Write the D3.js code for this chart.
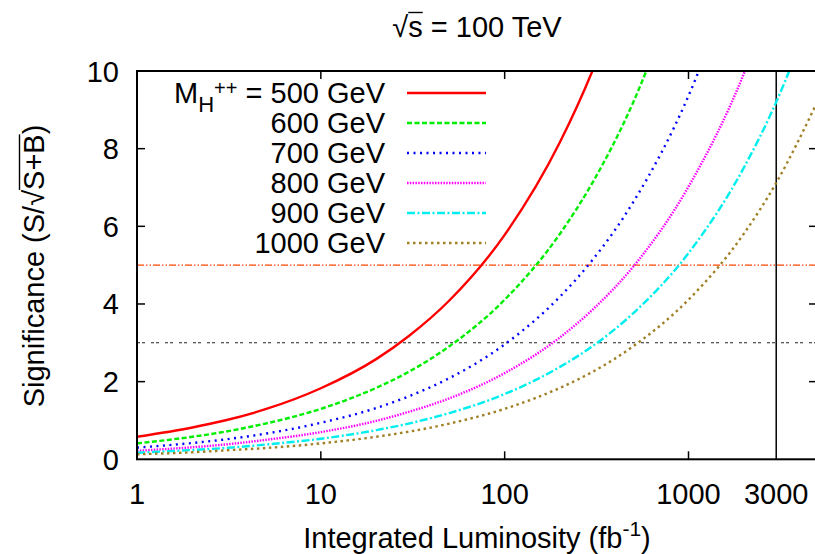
<!DOCTYPE html>
<html><head><meta charset="utf-8">
<script src="https://cdn.jsdelivr.net/npm/d3@7"></script>
<style>body{margin:0;background:#fff}svg{display:block}text{font-family:"Liberation Sans",Arial,sans-serif}</style>
</head><body>
<script>
const lumi = [1,2,3,5,10,20,30,50,100,200,300,500,1000,2000,3000,5000];
const masses = ["500","600","700","800","900","1000"];
const sig500  = [0.58,0.82,1.00,1.29,1.83,2.58,3.17,4.09,5.78,8.17,10.0,12.9];
const sig600  = [0.41,0.58,0.71,0.92,1.30,1.84,2.25,2.91,4.11,5.81,7.12,9.19,13.0];
const sig700  = [0.30,0.42,0.51,0.66,0.94,1.32,1.62,2.09,2.96,4.19,5.13,6.62,9.36,13.2];
const sig800  = [0.22,0.31,0.38,0.50,0.70,0.99,1.22,1.57,2.22,3.14,3.85,4.96,7.02,9.93,12.2];
const sig900  = [0.17,0.24,0.29,0.38,0.53,0.75,0.92,1.19,1.68,2.38,2.91,3.76,5.31,7.51,9.20,11.9];
const sig1000 = [0.13,0.18,0.23,0.29,0.41,0.58,0.71,0.92,1.30,1.84,2.25,2.91,4.11,5.81,7.12,9.19];
const xTicks = [1,10,100,1000,3000];
const yTicks = [0,2,4,6,8,10];
const refLevels = [5,3];
const refLumi = 3000;

const series = [sig500,sig600,sig700,sig800,sig900,sig1000];
const colors = ["#ff0000","#00ee00","#0000ff","#ff00ff","#00eeee","#a08025"];
const dashes = [null,"5,2.5","2,4.5","1.5,1.3","8,2.5,2,2.5","2.5,3.5"];

const W=815,H=554;
const L=137,R=817,T=71,B=459.3;
const svg=d3.select("body").append("svg").attr("width",W).attr("height",H);
const x=d3.scaleLog().domain([1,5000]).range([L,R]);
const y=d3.scaleLinear().domain([0,10]).range([B,T]);
const fs=29;

svg.append("clipPath").attr("id","clip").append("rect").attr("x",L).attr("y",T).attr("width",R-L).attr("height",B-T);

// reference lines
svg.append("line").attr("x1",L).attr("x2",R).attr("y1",y(refLevels[0])).attr("y2",y(refLevels[0]))
  .attr("stroke","#ff4500").attr("stroke-width",1.2).attr("stroke-dasharray","7,2,1.5,2,1.5,2");
svg.append("line").attr("x1",L).attr("x2",R).attr("y1",y(refLevels[1])).attr("y2",y(refLevels[1]))
  .attr("stroke","#222").attr("stroke-width",1.1).attr("stroke-dasharray","3,2,3,6");
svg.append("line").attr("x1",x(refLumi)).attr("x2",x(refLumi)).attr("y1",T).attr("y2",B)
  .attr("stroke","#000").attr("stroke-width",1.5);

// curves
const line=d3.line().x(d=>x(d[0])).y(d=>y(d[1])).curve(d3.curveMonotoneX);
const g=svg.append("g").attr("clip-path","url(#clip)");
series.forEach((s,i)=>{
  g.append("path").datum(s.map((v,j)=>[lumi[j],v])).attr("d",line)
   .attr("fill","none").attr("stroke",colors[i]).attr("stroke-width",2.4)
   .attr("stroke-dasharray",dashes[i]);
});

// frame
svg.append("rect").attr("x",L).attr("y",T).attr("width",R-L).attr("height",B-T)
  .attr("fill","none").attr("stroke","#000").attr("stroke-width",2);

// ticks
const tl=8;
[10,100,1000].forEach(v=>{
  svg.append("line").attr("x1",x(v)).attr("x2",x(v)).attr("y1",B).attr("y2",B-tl).attr("stroke","#000").attr("stroke-width",1.5);
  svg.append("line").attr("x1",x(v)).attr("x2",x(v)).attr("y1",T).attr("y2",T+tl).attr("stroke","#000").attr("stroke-width",1.5);
});
yTicks.slice(1,-1).forEach(v=>{
  svg.append("line").attr("x1",L).attr("x2",L+tl).attr("y1",y(v)).attr("y2",y(v)).attr("stroke","#000").attr("stroke-width",1.5);
  svg.append("line").attr("x1",R).attr("x2",R-tl).attr("y1",y(v)).attr("y2",y(v)).attr("stroke","#000").attr("stroke-width",1.5);
});

// tick labels
xTicks.forEach(v=>{
  svg.append("text").attr("x",x(v)).attr("y",504).attr("text-anchor","middle").attr("font-size",fs).text(v);
});
yTicks.forEach(v=>{
  svg.append("text").attr("x",119).attr("y",y(v)+10.5).attr("text-anchor","end").attr("font-size",fs).text(v);
});

// axis titles
const xt=svg.append("text").attr("x",477).attr("y",548).attr("text-anchor","middle").attr("font-size",fs);
xt.append("tspan").text("Integrated Luminosity (fb");
xt.append("tspan").attr("dy",-12).attr("font-size",21).text("-1");
xt.append("tspan").attr("dy",12).text(")");

const ytr="translate(44,266) rotate(-90)";
const yt=svg.append("text").attr("transform",ytr).attr("text-anchor","middle").attr("font-size",fs);
yt.append("tspan").text("Significance (S/√");
yt.append("tspan").text("S+B");
yt.append("tspan").text(")");

// title
const tt=svg.append("text").attr("x",477).attr("y",37).attr("text-anchor","middle").attr("font-size",fs);
tt.append("tspan").text("√");
tt.append("tspan").text("s");
tt.append("tspan").text(" = 100 TeV");

function overbar(textSel,startChar,endChar,parentTransform){
  const n=textSel.node();
  const a=n.getStartPositionOfChar(startChar), b=n.getEndPositionOfChar(endChar);
  const bb=n.getExtentOfChar(startChar);
  const p=d3.select(n.parentNode).append("line")
    .attr("x1",a.x).attr("x2",b.x).attr("y1",bb.y+1.5).attr("y2",bb.y+1.5)
    .attr("stroke","#000").attr("stroke-width",1.4);
  if(parentTransform) p.attr("transform",parentTransform);
}
overbar(tt,1,1);
{
  const s="Significance (S/√";
  overbar(yt,s.length,s.length+2,ytr);
}

// legend
const lx1=407,lx2=486,ltx=385;
masses.forEach((m,i)=>{
  const ly=93+30*i;
  const t=svg.append("text").attr("x",ltx).attr("y",ly+10).attr("text-anchor","end").attr("font-size",fs);
  if(i===0){
    t.append("tspan").text("M");
    t.append("tspan").attr("dy",9).attr("font-size",22).text("H");
    t.append("tspan").attr("dy",-17).attr("font-size",20).text("++");
    t.append("tspan").attr("dy",8).text(" = "+m+" GeV");
  } else t.text(m+" GeV");
  svg.append("line").attr("x1",lx1).attr("x2",lx2).attr("y1",ly).attr("y2",ly)
    .attr("stroke",colors[i]).attr("stroke-width",2.4).attr("stroke-dasharray",dashes[i]);
});
</script>
</body></html>
